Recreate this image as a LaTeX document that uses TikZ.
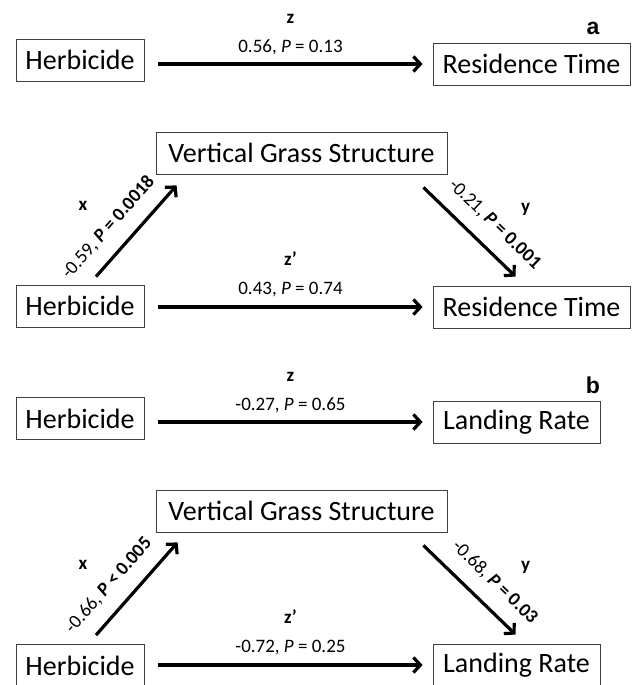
\documentclass[tikz,border=0pt]{standalone}
\usepackage{fontspec}
\setmainfont{Carlito}
\newfontfamily\panelfont{Liberation Sans}
\usetikzlibrary{arrows.meta, positioning, calc}
\newcommand{\boxsize}{\fontsize{28}{30}\selectfont}
\newcommand{\lblsize}{\fontsize{19}{21}\selectfont}

\begin{document}
\begin{tikzpicture}[x=1pt, y=1pt,
  box/.style={draw=black!75, line width=0.8pt, font=\boxsize, minimum height=42pt, inner sep=0pt},
  lbl/.style={font=\lblsize, inner sep=0pt},
  var/.style={font=\lblsize\bfseries, inner sep=0pt},
  panel/.style={font=\panelfont\fontsize{23}{25}\selectfont\bfseries, inner sep=0pt},
  arr/.style={line width=3.2pt, -{Straight Barb[length=7pt, width=15pt]}}]
 \useasboundingbox (0,0) rectangle (635,685);
 % panel a, total effect
 \node[panel] (pa) at (593,657) {a};
 \node[box, minimum width=128pt] (herbA1) at (80,625) {Herbicide};
 \node[box, minimum width=197pt] (resA1) at (531.5,621) {Residence Time};
 \draw[arr] ($(herbA1.east |- resA1.west)+(14,0)$) -- ($(resA1.west)+(-10,0)$)
   node[lbl, midway, above=7pt] (zA) {0.56, \textit{P} = 0.13};
 \node[var, above=14.5pt of zA] (zAl) {z};
 % panel a, mediation
 \node[box, minimum width=291pt] (vgsA) at (301.5,532) {Vertical Grass Structure};
 \node[box, minimum width=128pt] (herbA2) at (80,379) {Herbicide};
 \node[box, minimum width=197pt] (resA2) at (531.5,378) {Residence Time};
 \draw[arr] ($(herbA2.east |- resA2.west)+(14,0)$) -- ($(resA2.west)+(-10,0)$)
   node[lbl, midway, above=8pt] (zpA) {0.43, \textit{P} = 0.74};
 \node[var, above=15pt of zpA] (zpAl) {z’};
 \draw[arr] ($(herbA2.north)+(16,8)$) -- ($(vgsA.south west)+(21,-11)$)
   node[lbl, sloped, pos=0.37, above=14pt] (xA) {-0.59, \textbf{\textit{P} = 0.0018}};
 \draw[arr] ($(vgsA.south east)+(-24,-13)$) -- ($(resA2.north west)+(83,9)$)
   node[lbl, sloped, pos=0.6, above=14pt] (yA) {-0.21, \textbf{\textit{P} = 0.001}};
 \node[var] (xAl) at ($(herbA2.north)+(3,79)$) {x};
 \node[var] (yAl) at ($(resA2.north west)+(93,76)$) {y};
 % panel b, total effect
 \node[panel] (pb) at (593,300) {b};
 \node[box, minimum width=128pt] (herbB1) at (80,266.5) {Herbicide};
 \node[box, minimum width=167pt] (lrB1) at (516.5,263) {Landing Rate};
 \draw[arr] ($(herbB1.east |- lrB1.west)+(14,0)$) -- ($(lrB1.west)+(-10,0)$)
   node[lbl, midway, above=7pt] (zB) {-0.27, \textit{P} = 0.65};
 \node[var, above=14.5pt of zB] (zBl) {z};
 % panel b, mediation
 \node[box, minimum width=291pt] (vgsB) at (301.5,174) {Vertical Grass Structure};
 \node[box, minimum width=128pt] (herbB2) at (80,19.5) {Herbicide};
 \node[box, minimum width=167pt] (lrB2) at (516.5,20) {Landing Rate};
 \draw[arr] ($(herbB2.east |- lrB2.west)+(14,0)$) -- ($(lrB2.west)+(-10,0)$)
   node[lbl, midway, above=8pt] (zpB) {-0.72, \textit{P} = 0.25};
 \node[var, above=15pt of zpB] (zpBl) {z’};
 \draw[arr] ($(herbB2.north)+(16,9)$) -- ($(vgsB.south west)+(22,-10)$)
   node[lbl, sloped, pos=0.37, above=14pt] (xB) {-0.66, \textbf{\textit{P} < 0.005}};
 \draw[arr] ($(vgsB.south east)+(-24,-13)$) -- ($(lrB2.north west)+(83,9)$)
   node[lbl, sloped, pos=0.6, above=14pt] (yB) {-0.68, \textbf{\textit{P} = 0.03}};
 \node[var] (xBl) at ($(herbB2.north)+(3,79)$) {x};
 \node[var] (yBl) at ($(lrB2.north west)+(93,76)$) {y};
\end{tikzpicture}
\end{document}
